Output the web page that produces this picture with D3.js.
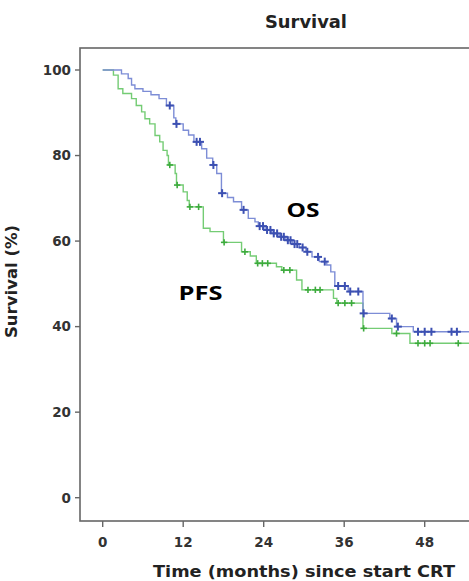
<!DOCTYPE html>
<html>
<head>
<meta charset="utf-8">
<script src="https://cdn.jsdelivr.net/npm/d3@7"></script>
<style>
  html, body { margin: 0; padding: 0; background: #fff; }
  svg { display: block; }
</style>
</head>
<body>
<svg id="chart" width="469" height="581"></svg>
<script>
// Kaplan-Meier steps (months, % surviving)
const osTimes = [0, 2.8, 3.8, 4.3, 4.8, 6.0, 7.2, 8.4, 9.5, 10.6, 10.9, 12.0, 12.8, 13.6, 14.75, 15.5, 16.4, 17.0, 17.7, 18.6, 19.5, 20.7, 21.7, 22.7, 23.2, 24.2, 25.2, 26.3, 27.3, 28.3, 29.3, 30.3, 31.2, 32.3, 33.4, 34.0, 34.6, 36.6, 38.8, 42.8, 43.8, 46.3];
const osSurv = [100, 99.1, 98, 96.5, 95.6, 95, 94.2, 93.3, 91.7, 88.8, 87.4, 85.9, 84.8, 83.2, 81.6, 79.4, 77.8, 75.8, 71.2, 70.2, 69.2, 67.3, 65.3, 64.5, 63.5, 62.6, 61.8, 61.0, 60.2, 59.3, 58.5, 57.5, 56.3, 55.2, 54.4, 52.8, 49.5, 48.2, 43.1, 41.9, 40.0, 38.8];
const osCensor = [10.0, 11.0, 14.0, 14.5, 16.5, 17.8, 21.0, 23.4, 23.9, 24.5, 25.0, 25.5, 26.0, 26.6, 27.0, 27.6, 28.0, 28.6, 29.0, 29.8, 30.5, 32.1, 33.1, 35.1, 36.1, 36.9, 38.1, 38.9, 43.1, 44.0, 47.0, 48.0, 49.0, 52.0, 52.8];

const pfsTimes = [0, 1.6, 2.3, 3.0, 4.3, 5.0, 5.8, 6.3, 7.0, 7.8, 8.5, 9.0, 9.6, 9.8, 10.8, 11.0, 12.0, 12.6, 12.9, 15.0, 16.0, 18.0, 20.7, 22.0, 22.9, 25.9, 26.7, 28.9, 29.7, 34.4, 34.9, 38.8, 43.1, 45.8];
const pfsSurv = [100, 98.8, 95.6, 94.5, 93.3, 91.7, 90.2, 88.6, 87.4, 84.7, 83.2, 81.2, 80.0, 77.8, 75.8, 73.1, 71.5, 69.5, 68.0, 63.0, 62.2, 59.7, 57.5, 56.5, 54.8, 54.0, 53.2, 50.9, 48.6, 46.6, 45.5, 39.6, 38.4, 36.1];
const pfsCensor = [10.0, 11.1, 13.0, 14.3, 18.1, 21.2, 23.1, 23.8, 24.6, 27.0, 27.9, 30.6, 31.7, 32.4, 35.1, 36.1, 37.1, 38.9, 43.8, 47.0, 48.0, 48.8, 53.0];

const followUpEnd = 57;
const xTicks = [0, 12, 24, 36, 48];
const yTicks = [0, 20, 40, 60, 80, 100];

const svg = d3.select('#chart');

const x = d3.scaleLinear().domain([0, 48]).range([102.7, 424.7]);
const y = d3.scaleLinear().domain([0, 100]).range([497.7, 70]);

const frame = { left: 80, top: 48, right: 490, bottom: 521 };
const axisColor = '#666';
const textColor = '#333';
const tickFont = 'DejaVu Sans, Verdana, sans-serif';

function stepData(times, surv) {
    const pts = times.map((t, i) => [t, surv[i]]);
    pts.push([followUpEnd, surv[surv.length - 1]]);
    return pts;
}

function survivalAt(times, surv, t) {
    let s = surv[0];
    times.forEach((ti, i) => { if (ti <= t) s = surv[i]; });
    return s;
}

// frame
svg.append('rect')
    .attr('x', frame.left)
    .attr('y', frame.top)
    .attr('width', frame.right - frame.left)
    .attr('height', frame.bottom - frame.top)
    .attr('fill', 'none')
    .attr('stroke', axisColor)
    .attr('stroke-width', 1.6);

// y axis ticks
const yAxis = svg.append('g');
yAxis.selectAll('line').data(yTicks).join('line')
    .attr('x1', frame.left - 5).attr('x2', frame.left)
    .attr('y1', d => y(d)).attr('y2', d => y(d))
    .attr('stroke', axisColor).attr('stroke-width', 1.4);
yAxis.selectAll('text').data(yTicks).join('text')
    .attr('x', frame.left - 9)
    .attr('y', d => y(d))
    .attr('dy', '0.36em')
    .attr('text-anchor', 'end')
    .attr('font-family', tickFont)
    .attr('font-weight', 'bold')
    .attr('font-size', 13.5)
    .attr('fill', textColor)
    .text(d => d);

// x axis ticks
const xAxis = svg.append('g');
xAxis.selectAll('line').data(xTicks).join('line')
    .attr('x1', d => x(d)).attr('x2', d => x(d))
    .attr('y1', frame.bottom).attr('y2', frame.bottom + 6)
    .attr('stroke', axisColor).attr('stroke-width', 1.4);
xAxis.selectAll('text').data(xTicks).join('text')
    .attr('x', d => x(d))
    .attr('y', 546.5)
    .attr('text-anchor', 'middle')
    .attr('font-family', tickFont)
    .attr('font-weight', 'bold')
    .attr('font-size', 13.5)
    .attr('fill', textColor)
    .text(d => d);

// titles
svg.append('text')
    .attr('x', 306).attr('y', 27.5)
    .attr('text-anchor', 'middle')
    .attr('font-family', tickFont)
    .attr('font-weight', 'bold')
    .attr('font-size', 17)
    .attr('fill', '#222')
    .attr('textLength', 82)
    .attr('lengthAdjust', 'spacingAndGlyphs')
    .text('Survival');

svg.append('text')
    .attr('x', 304).attr('y', 576.5)
    .attr('text-anchor', 'middle')
    .attr('font-family', tickFont)
    .attr('font-weight', 'bold')
    .attr('font-size', 16.5)
    .attr('fill', '#222')
    .attr('textLength', 302)
    .attr('lengthAdjust', 'spacingAndGlyphs')
    .text('Time (months) since start CRT');

svg.append('text')
    .attr('transform', 'translate(16.5,281.5) rotate(-90)')
    .attr('text-anchor', 'middle')
    .attr('font-family', tickFont)
    .attr('font-weight', 'bold')
    .attr('font-size', 16)
    .attr('fill', '#222')
    .attr('textLength', 113)
    .attr('lengthAdjust', 'spacingAndGlyphs')
    .text('Survival (%)');

// curves
const clip = svg.append('defs').append('clipPath').attr('id', 'plot-clip')
    .append('rect')
    .attr('x', frame.left).attr('y', frame.top)
    .attr('width', frame.right - frame.left).attr('height', frame.bottom - frame.top);

const plot = svg.append('g').attr('clip-path', 'url(#plot-clip)');

const line = d3.line()
    .x(d => x(d[0]))
    .y(d => y(d[1]))
    .curve(d3.curveStepAfter);

const series = [
    { times: pfsTimes, surv: pfsSurv, censor: pfsCensor, line: '#74cc74', mark: '#3dab3d', arm: 3.2, mw: 1.6 },
    { times: osTimes, surv: osSurv, censor: osCensor, line: '#7d8dd6', mark: '#3c50b2', arm: 4, mw: 2 },
];

series.forEach(s => {
    plot.append('path')
        .datum(stepData(s.times, s.surv))
        .attr('d', line)
        .attr('fill', 'none')
        .attr('stroke', s.line)
        .attr('stroke-width', 1.4);

    const marks = plot.append('g')
        .attr('stroke', s.mark)
        .attr('stroke-width', s.mw);
    s.censor.forEach(t => {
        const cx = x(t);
        const cy = y(survivalAt(s.times, s.surv, t));
        marks.append('line')
            .attr('x1', cx - s.arm).attr('x2', cx + s.arm)
            .attr('y1', cy).attr('y2', cy);
        marks.append('line')
            .attr('x1', cx).attr('x2', cx)
            .attr('y1', cy - s.arm).attr('y2', cy + s.arm);
    });
});

// curve labels
svg.append('text')
    .attr('x', 286.5).attr('y', 217)
    .attr('font-family', 'Open Sans, sans-serif')
    .attr('font-weight', 'bold')
    .attr('font-size', 20)
    .attr('fill', '#000')
    .attr('textLength', 33)
    .attr('lengthAdjust', 'spacingAndGlyphs')
    .text('OS');

svg.append('text')
    .attr('x', 178.5).attr('y', 299.5)
    .attr('font-family', 'Open Sans, sans-serif')
    .attr('font-weight', 'bold')
    .attr('font-size', 20)
    .attr('fill', '#000')
    .attr('textLength', 44)
    .attr('lengthAdjust', 'spacingAndGlyphs')
    .text('PFS');
</script>
</body>
</html>
